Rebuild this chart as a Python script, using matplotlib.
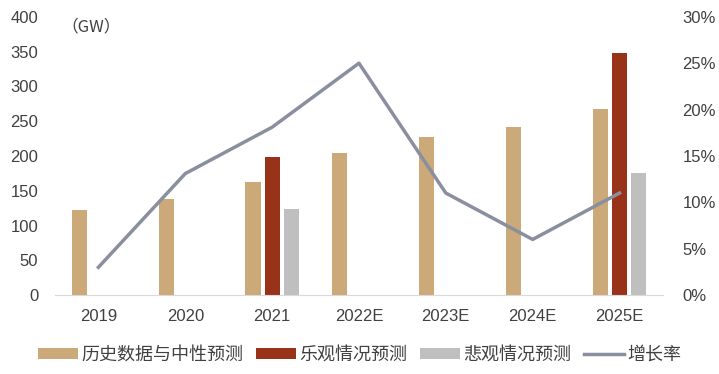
import numpy as np
import matplotlib.pyplot as plt
from matplotlib.ticker import FuncFormatter

plt.rcParams['font.family'] = ['Liberation Sans', 'Noto Sans CJK SC']

years = ['2019', '2020', '2021', '2022E', '2023E', '2024E', '2025E']
neutral = [122, 138, 163, 204, 227, 241, 267]
optimistic = [np.nan, np.nan, 198, np.nan, np.nan, np.nan, 348]
pessimistic = [np.nan, np.nan, 124, np.nan, np.nan, np.nan, 175]
growth = [0.03, 0.131, 0.181, 0.25, 0.11, 0.06, 0.11]

txt = '#404040'
x = np.arange(len(years))
w = 0.175
step = 0.22

fig = plt.figure(figsize=(7.19, 3.74), dpi=100)
ax = fig.add_axes([0.0765, 0.211, 0.8455, 0.744])
ax2 = ax.twinx()

b1 = ax.bar(x - step, neutral, w, color='#CBA978', label='历史数据与中性预测')
b2 = ax.bar(x, optimistic, w, color='#983219', label='乐观情况预测')
b3 = ax.bar(x + step, pessimistic, w, color='#BFBFBF', label='悲观情况预测')
l1, = ax2.plot(x, growth, color='#8A8FA0', lw=2.5, label='增长率')

ax.set_xlim(-0.5, len(years) - 0.5)
ax.set_ylim(0, 400)
ax.set_yticks(range(0, 401, 50))
ax2.set_ylim(0, 0.30)
ax2.set_yticks(np.arange(0, 0.31, 0.05))
ax2.yaxis.set_major_formatter(FuncFormatter(lambda v, p: '%d%%' % round(v * 100)))
ax.set_xticks(x)
ax.set_xticklabels(years)

for a in (ax, ax2):
    for s in ('top', 'left', 'right'):
        a.spines[s].set_visible(False)
    a.spines['bottom'].set_color('#D9D9D9')
    a.tick_params(length=0, labelsize=12, colors=txt)
ax.tick_params(axis='y', pad=12)
ax.tick_params(axis='x', pad=10)
ax2.tick_params(axis='y', pad=14)
ax2.spines['bottom'].set_visible(False)

ax.text(0.01, 0.965, '（GW）', transform=ax.transAxes, fontsize=12, color=txt, va='center',
        family=['Noto Sans CJK SC', 'Liberation Sans'])

fig.legend(handles=[b1, b2, b3, l1], loc='center', bbox_to_anchor=(0.5, 0.05), ncol=4,
           frameon=False, fontsize=13, handlelength=2.2, handleheight=0.5,
           columnspacing=0.7, handletextpad=0.2, labelcolor=txt)

fig.savefig('out.png', dpi=100)
